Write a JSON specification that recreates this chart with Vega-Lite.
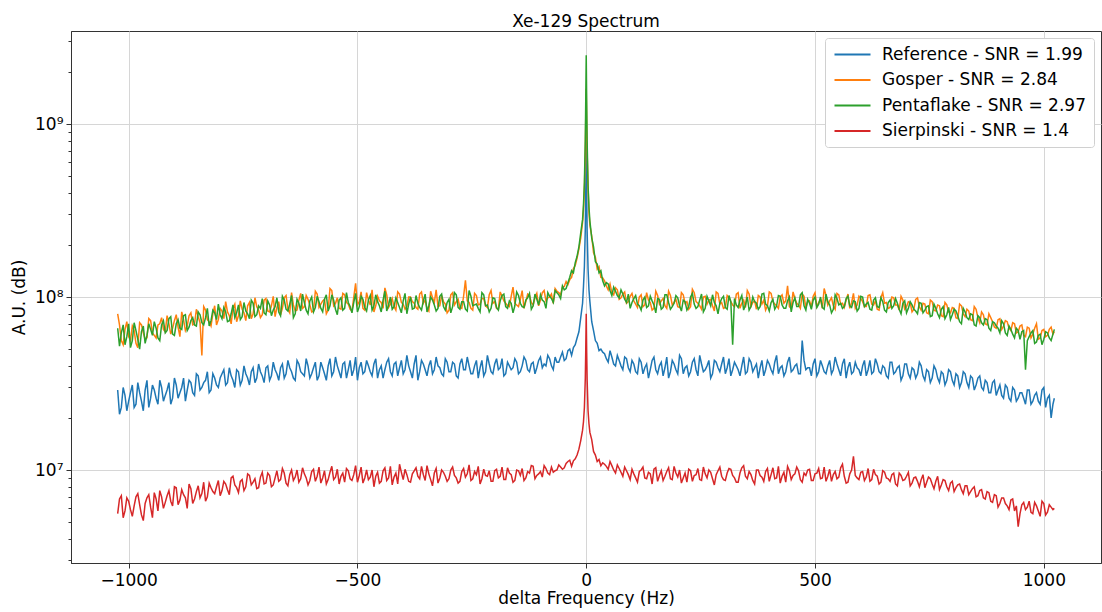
{
"$schema":"https://vega.github.io/schema/vega-lite/v6.json",
"width":1030,"height":532,
"autosize":{"type":"none"},
"padding":{"left":71,"top":31,"right":1,"bottom":49},
"title":{"text":"Xe-129 Spectrum","fontSize":17,"font":"DejaVu Sans","fontWeight":"normal","color":"#000","offset":0},
"data":{"values":[
{"f":-1024,"b":2.9e7,"o":8.0e7,"g":6.6e7,"r":5.6e6},
{"f":-1020,"b":2.1e7,"o":6.9e7,"g":5.2e7,"r":6.8e6},
{"f":-1016,"b":2.3e7,"o":5.6e7,"g":6.2e7,"r":7.1e6},
{"f":-1012,"b":3.0e7,"o":5.3e7,"g":6.9e7,"r":5.3e6},
{"f":-1008,"b":2.7e7,"o":6.5e7,"g":5.3e7,"r":5.8e6},
{"f":-1004,"b":2.2e7,"o":7.2e7,"g":5.9e7,"r":6.9e6},
{"f":-1000,"b":2.5e7,"o":5.9e7,"g":7.0e7,"r":6.6e6},
{"f":-996,"b":2.8e7,"o":5.6e7,"g":5.1e7,"r":5.9e6},
{"f":-992,"b":3.1e7,"o":6.8e7,"g":5.6e7,"r":5.4e6},
{"f":-988,"b":2.3e7,"o":6.4e7,"g":7.1e7,"r":6.2e6},
{"f":-984,"b":2.4e7,"o":5.4e7,"g":6.4e7,"r":7.0e6},
{"f":-980,"b":3.2e7,"o":5.1e7,"g":5.7e7,"r":7.3e6},
{"f":-976,"b":2.8e7,"o":7.1e7,"g":5.0e7,"r":6.3e6},
{"f":-972,"b":2.5e7,"o":6.9e7,"g":6.3e7,"r":5.5e6},
{"f":-968,"b":2.2e7,"o":6.2e7,"g":6.8e7,"r":5.1e6},
{"f":-964,"b":2.9e7,"o":5.7e7,"g":5.4e7,"r":6.4e6},
{"f":-960,"b":3.3e7,"o":5.8e7,"g":6.0e7,"r":6.9e6},
{"f":-956,"b":2.3e7,"o":7.5e7,"g":7.0e7,"r":7.2e6},
{"f":-952,"b":2.6e7,"o":7.3e7,"g":6.5e7,"r":6.1e6},
{"f":-948,"b":3.1e7,"o":6.2e7,"g":6.0e7,"r":5.3e6},
{"f":-944,"b":2.9e7,"o":6.0e7,"g":7.2e7,"r":7.4e6},
{"f":-940,"b":2.6e7,"o":5.8e7,"g":6.6e7,"r":6.8e6},
{"f":-936,"b":2.4e7,"o":6.9e7,"g":5.8e7,"r":5.8e6},
{"f":-932,"b":3.3e7,"o":7.0e7,"g":5.6e7,"r":7.6e6},
{"f":-928,"b":3.0e7,"o":7.6e7,"g":6.9e7,"r":7.0e6},
{"f":-924,"b":2.5e7,"o":6.5e7,"g":7.3e7,"r":6.0e6},
{"f":-920,"b":2.7e7,"o":6.3e7,"g":6.2e7,"r":6.5e6},
{"f":-916,"b":2.9e7,"o":7.8e7,"g":6.4e7,"r":7.1e6},
{"f":-912,"b":3.2e7,"o":7.0e7,"g":7.5e7,"r":7.6e6},
{"f":-908,"b":2.4e7,"o":6.1e7,"g":7.7e7,"r":6.6e6},
{"f":-904,"b":2.6e7,"o":6.6e7,"g":6.1e7,"r":6.2e6},
{"f":-900,"b":3.4e7,"o":7.3e7,"g":6.0e7,"r":8.0e6},
{"f":-896,"b":3.1e7,"o":7.9e7,"g":7.0e7,"r":7.9e6},
{"f":-892,"b":2.6e7,"o":6.7e7,"g":7.4e7,"r":6.3e6},
{"f":-888,"b":2.8e7,"o":5.9e7,"g":6.6e7,"r":6.7e6},
{"f":-884,"b":3.0e7,"o":8.2e7,"g":6.5e7,"r":7.7e6},
{"f":-880,"b":3.4e7,"o":7.4e7,"g":7.8e7,"r":7.2e6},
{"f":-876,"b":2.5e7,"o":6.4e7,"g":7.9e7,"r":6.9e6},
{"f":-872,"b":2.9e7,"o":6.8e7,"g":6.4e7,"r":6.0e6},
{"f":-868,"b":3.3e7,"o":7.8e7,"g":6.7e7,"r":8.3e6},
{"f":-864,"b":3.2e7,"o":8.1e7,"g":7.3e7,"r":7.8e6},
{"f":-860,"b":2.8e7,"o":6.9e7,"g":7.6e7,"r":6.4e6},
{"f":-856,"b":2.7e7,"o":7.0e7,"g":6.9e7,"r":6.8e6},
{"f":-852,"b":3.6e7,"o":8.5e7,"g":6.8e7,"r":7.5e6},
{"f":-848,"b":3.5e7,"o":7.7e7,"g":8.2e7,"r":8.1e6},
{"f":-844,"b":2.9e7,"o":7.1e7,"g":7.9e7,"r":6.9e6},
{"f":-840,"b":3.0e7,"o":4.6e7,"g":7.1e7,"r":7.3e6},
{"f":-836,"b":3.2e7,"o":8.8e7,"g":6.9e7,"r":8.5e6},
{"f":-832,"b":3.3e7,"o":8.4e7,"g":7.6e7,"r":6.6e6},
{"f":-828,"b":3.7e7,"o":7.4e7,"g":8.6e7,"r":7.0e6},
{"f":-824,"b":2.8e7,"o":7.2e7,"g":6.8e7,"r":8.4e6},
{"f":-820,"b":2.9e7,"o":6.8e7,"g":7.3e7,"r":7.9e6},
{"f":-816,"b":3.6e7,"o":8.0e7,"g":8.4e7,"r":7.5e6},
{"f":-812,"b":3.4e7,"o":8.9e7,"g":8.1e7,"r":7.3e6},
{"f":-808,"b":3.1e7,"o":6.9e7,"g":7.4e7,"r":8.0e6},
{"f":-804,"b":3.0e7,"o":7.4e7,"g":9.1e7,"r":8.7e6},
{"f":-800,"b":3.4e7,"o":8.6e7,"g":7.9e7,"r":7.1e6},
{"f":-796,"b":3.6e7,"o":8.3e7,"g":7.5e7,"r":7.6e6},
{"f":-792,"b":3.8e7,"o":7.5e7,"g":8.7e7,"r":8.6e6},
{"f":-788,"b":3.1e7,"o":9.4e7,"g":8.2e7,"r":8.3e6},
{"f":-784,"b":3.2e7,"o":8.2e7,"g":7.2e7,"r":7.7e6},
{"f":-780,"b":3.9e7,"o":7.8e7,"g":7.3e7,"r":7.2e6},
{"f":-776,"b":3.5e7,"o":7.0e7,"g":8.0e7,"r":9.0e6},
{"f":-772,"b":3.3e7,"o":8.6e7,"g":9.0e7,"r":9.2e6},
{"f":-768,"b":3.0e7,"o":9.1e7,"g":7.6e7,"r":8.2e6},
{"f":-764,"b":3.8e7,"o":7.2e7,"g":8.1e7,"r":7.9e6},
{"f":-760,"b":3.7e7,"o":7.8e7,"g":9.0e7,"r":7.4e6},
{"f":-756,"b":3.1e7,"o":9.5e7,"g":7.4e7,"r":8.6e6},
{"f":-752,"b":3.3e7,"o":8.5e7,"g":7.7e7,"r":8.8e6},
{"f":-748,"b":4.0e7,"o":8.1e7,"g":9.3e7,"r":7.6e6},
{"f":-744,"b":3.6e7,"o":7.3e7,"g":8.3e7,"r":8.0e6},
{"f":-740,"b":3.4e7,"o":8.9e7,"g":8.0e7,"r":9.5e6},
{"f":-736,"b":3.1e7,"o":9.3e7,"g":7.5e7,"r":9.3e6},
{"f":-732,"b":3.7e7,"o":7.5e7,"g":9.6e7,"r":8.2e6},
{"f":-728,"b":3.9e7,"o":8.0e7,"g":9.2e7,"r":8.5e6},
{"f":-724,"b":3.2e7,"o":9.9e7,"g":7.7e7,"r":8.9e6},
{"f":-720,"b":3.4e7,"o":8.8e7,"g":7.9e7,"r":7.8e6},
{"f":-716,"b":4.1e7,"o":8.4e7,"g":8.9e7,"r":7.9e6},
{"f":-712,"b":3.7e7,"o":7.6e7,"g":8.6e7,"r":9.1e6},
{"f":-708,"b":3.5e7,"o":7.9e7,"g":9.8e7,"r":9.7e6},
{"f":-704,"b":3.2e7,"o":9.6e7,"g":8.1e7,"r":8.3e6},
{"f":-700,"b":3.9e7,"o":9.8e7,"g":7.9e7,"r":8.4e6},
{"f":-696,"b":4.0e7,"o":8.3e7,"g":9.5e7,"r":9.6e6},
{"f":-692,"b":3.3e7,"o":8.2e7,"g":9.0e7,"r":9.3e6},
{"f":-688,"b":3.5e7,"o":8.9e7,"g":7.8e7,"r":8.0e6},
{"f":-684,"b":4.2e7,"o":1.01e8,"g":8.4e7,"r":8.2e6},
{"f":-680,"b":3.8e7,"o":7.7e7,"g":8.8e7,"r":9.0e6},
{"f":-676,"b":3.6e7,"o":8.7e7,"g":9.9e7,"r":9.9e6},
{"f":-672,"b":3.3e7,"o":9.4e7,"g":8.2e7,"r":8.6e6},
{"f":-668,"b":3.9e7,"o":7.9e7,"g":7.8e7,"r":8.8e6},
{"f":-664,"b":4.1e7,"o":8.6e7,"g":1.01e8,"r":1.02e7},
{"f":-660,"b":3.4e7,"o":9.9e7,"g":9.6e7,"r":9.6e6},
{"f":-656,"b":3.6e7,"o":1.02e8,"g":8.5e7,"r":8.4e6},
{"f":-652,"b":4.3e7,"o":8.5e7,"g":8.3e7,"r":8.1e6},
{"f":-648,"b":3.9e7,"o":8.1e7,"g":9.1e7,"r":9.4e6},
{"f":-644,"b":3.7e7,"o":1.06e8,"g":1.02e8,"r":1.0e7},
{"f":-640,"b":3.4e7,"o":9.0e7,"g":7.6e7,"r":8.7e6},
{"f":-636,"b":3.3e7,"o":8.3e7,"g":8.0e7,"r":9.1e6},
{"f":-632,"b":4.3e7,"o":8.4e7,"g":9.7e7,"r":1.0e7},
{"f":-628,"b":4.1e7,"o":9.6e7,"g":9.2e7,"r":8.5e6},
{"f":-624,"b":3.7e7,"o":1.05e8,"g":8.3e7,"r":8.9e6},
{"f":-620,"b":3.6e7,"o":8.6e7,"g":1.04e8,"r":1.03e7},
{"f":-616,"b":3.5e7,"o":8.8e7,"g":9.3e7,"r":9.5e6},
{"f":-612,"b":4.4e7,"o":1.02e8,"g":8.4e7,"r":9.0e6},
{"f":-608,"b":4.0e7,"o":9.7e7,"g":8.0e7,"r":8.2e6},
{"f":-604,"b":3.4e7,"o":9.0e7,"g":9.5e7,"r":8.7e6},
{"f":-600,"b":3.6e7,"o":8.2e7,"g":1.0e8,"r":9.8e6},
{"f":-596,"b":3.9e7,"o":8.3e7,"g":8.2e7,"r":1.01e7},
{"f":-592,"b":4.2e7,"o":1.08e8,"g":8.7e7,"r":8.6e6},
{"f":-588,"b":3.3e7,"o":1.04e8,"g":1.01e8,"r":9.2e6},
{"f":-584,"b":3.5e7,"o":8.7e7,"g":9.4e7,"r":1.04e7},
{"f":-580,"b":4.2e7,"o":9.1e7,"g":8.6e7,"r":8.4e6},
{"f":-576,"b":3.9e7,"o":9.5e7,"g":8.2e7,"r":9.0e6},
{"f":-572,"b":3.6e7,"o":9.7e7,"g":9.7e7,"r":9.9e6},
{"f":-568,"b":3.3e7,"o":8.0e7,"g":1.03e8,"r":8.3e6},
{"f":-564,"b":4.0e7,"o":8.4e7,"g":8.3e7,"r":8.8e6},
{"f":-560,"b":4.4e7,"o":1.12e8,"g":8.9e7,"r":9.7e6},
{"f":-556,"b":3.5e7,"o":1.09e8,"g":1.03e8,"r":1.05e7},
{"f":-552,"b":3.7e7,"o":8.9e7,"g":9.6e7,"r":8.8e6},
{"f":-548,"b":4.5e7,"o":9.2e7,"g":8.5e7,"r":9.1e6},
{"f":-544,"b":4.0e7,"o":9.9e7,"g":7.9e7,"r":1.01e7},
{"f":-540,"b":3.7e7,"o":8.6e7,"g":9.6e7,"r":8.3e6},
{"f":-536,"b":3.4e7,"o":8.5e7,"g":9.9e7,"r":9.2e6},
{"f":-532,"b":4.1e7,"o":1.05e8,"g":8.4e7,"r":9.6e6},
{"f":-528,"b":4.2e7,"o":1.03e8,"g":8.6e7,"r":8.5e6},
{"f":-524,"b":3.4e7,"o":9.3e7,"g":1.06e8,"r":1.02e7},
{"f":-520,"b":3.8e7,"o":9.1e7,"g":9.3e7,"r":9.9e6},
{"f":-516,"b":4.3e7,"o":8.5e7,"g":8.8e7,"r":8.9e6},
{"f":-512,"b":3.5e7,"o":8.3e7,"g":8.1e7,"r":8.7e6},
{"f":-508,"b":3.8e7,"o":1.0e8,"g":9.3e7,"r":9.4e6},
{"f":-504,"b":4.5e7,"o":1.2e8,"g":1.05e8,"r":1.06e7},
{"f":-500,"b":3.3e7,"o":9.0e7,"g":8.2e7,"r":8.5e6},
{"f":-496,"b":3.9e7,"o":9.4e7,"g":8.8e7,"r":9.3e6},
{"f":-492,"b":4.2e7,"o":1.07e8,"g":1.01e8,"r":1.04e7},
{"f":-488,"b":3.6e7,"o":8.6e7,"g":9.7e7,"r":8.4e6},
{"f":-484,"b":3.7e7,"o":8.4e7,"g":8.7e7,"r":9.0e6},
{"f":-480,"b":4.3e7,"o":1.06e8,"g":8.3e7,"r":1.0e7},
{"f":-476,"b":4.0e7,"o":9.6e7,"g":9.6e7,"r":8.8e6},
{"f":-472,"b":3.7e7,"o":9.0e7,"g":1.02e8,"r":9.1e6},
{"f":-468,"b":3.5e7,"o":1.1e8,"g":8.4e7,"r":1.0e7},
{"f":-464,"b":4.1e7,"o":8.2e7,"g":8.9e7,"r":8.0e6},
{"f":-460,"b":4.4e7,"o":8.9e7,"g":1.03e8,"r":9.2e6},
{"f":-456,"b":3.4e7,"o":1.01e8,"g":9.4e7,"r":9.7e6},
{"f":-452,"b":3.8e7,"o":9.5e7,"g":8.9e7,"r":8.4e6},
{"f":-448,"b":4.0e7,"o":9.3e7,"g":8.2e7,"r":8.6e6},
{"f":-444,"b":3.4e7,"o":8.6e7,"g":9.6e7,"r":9.9e6},
{"f":-440,"b":3.8e7,"o":1.13e8,"g":1.08e8,"r":1.03e7},
{"f":-436,"b":4.2e7,"o":1.03e8,"g":8.3e7,"r":8.7e6},
{"f":-432,"b":4.4e7,"o":8.7e7,"g":9.0e7,"r":9.0e6},
{"f":-428,"b":3.7e7,"o":9.1e7,"g":1.0e8,"r":1.05e7},
{"f":-424,"b":3.5e7,"o":9.8e7,"g":8.5e7,"r":8.2e6},
{"f":-420,"b":4.1e7,"o":8.8e7,"g":8.8e7,"r":9.1e6},
{"f":-416,"b":4.2e7,"o":8.4e7,"g":9.9e7,"r":9.6e6},
{"f":-412,"b":3.5e7,"o":1.07e8,"g":9.3e7,"r":8.3e6},
{"f":-408,"b":3.9e7,"o":1.04e8,"g":8.7e7,"r":1.08e7},
{"f":-404,"b":4.3e7,"o":9.3e7,"g":8.1e7,"r":9.7e6},
{"f":-400,"b":3.6e7,"o":9.1e7,"g":9.5e7,"r":8.8e6},
{"f":-396,"b":3.8e7,"o":8.5e7,"g":1.05e8,"r":1.01e7},
{"f":-392,"b":4.6e7,"o":8.8e7,"g":8.0e7,"r":9.4e6},
{"f":-388,"b":4.0e7,"o":1.0e8,"g":9.1e7,"r":8.6e6},
{"f":-384,"b":3.7e7,"o":1.0e8,"g":1.0e8,"r":8.5e6},
{"f":-380,"b":3.4e7,"o":9.4e7,"g":8.5e7,"r":9.5e6},
{"f":-376,"b":4.1e7,"o":9.2e7,"g":8.6e7,"r":9.9e6},
{"f":-372,"b":4.6e7,"o":8.7e7,"g":1.02e8,"r":1.03e7},
{"f":-368,"b":3.3e7,"o":8.5e7,"g":9.2e7,"r":9.2e6},
{"f":-364,"b":3.7e7,"o":1.04e8,"g":8.7e7,"r":8.9e6},
{"f":-360,"b":4.3e7,"o":1.07e8,"g":8.4e7,"r":1.05e7},
{"f":-356,"b":4.1e7,"o":9.2e7,"g":9.5e7,"r":9.4e6},
{"f":-352,"b":3.8e7,"o":9.6e7,"g":1.04e8,"r":8.7e6},
{"f":-348,"b":3.5e7,"o":8.6e7,"g":8.2e7,"r":1.06e7},
{"f":-344,"b":4.0e7,"o":8.3e7,"g":8.9e7,"r":9.5e6},
{"f":-340,"b":4.3e7,"o":1.08e8,"g":1.0e8,"r":8.8e6},
{"f":-336,"b":3.6e7,"o":9.9e7,"g":9.6e7,"r":8.1e6},
{"f":-332,"b":3.8e7,"o":9.3e7,"g":9.0e7,"r":9.6e6},
{"f":-328,"b":4.5e7,"o":1.1e8,"g":8.3e7,"r":1.02e7},
{"f":-324,"b":4.0e7,"o":8.8e7,"g":8.6e7,"r":8.4e6},
{"f":-320,"b":3.9e7,"o":8.9e7,"g":1.01e8,"r":9.0e6},
{"f":-316,"b":3.6e7,"o":1.02e8,"g":1.04e8,"r":1.0e7},
{"f":-312,"b":3.5e7,"o":9.4e7,"g":8.8e7,"r":9.7e6},
{"f":-308,"b":4.4e7,"o":9.1e7,"g":8.4e7,"r":9.2e6},
{"f":-304,"b":4.2e7,"o":8.1e7,"g":9.3e7,"r":8.6e6},
{"f":-300,"b":3.7e7,"o":8.4e7,"g":9.7e7,"r":8.9e6},
{"f":-296,"b":3.7e7,"o":1.03e8,"g":8.1e7,"r":1.0e7},
{"f":-292,"b":4.2e7,"o":1.06e8,"g":8.8e7,"r":1.04e7},
{"f":-288,"b":4.1e7,"o":9.0e7,"g":1.06e8,"r":9.3e6},
{"f":-284,"b":3.5e7,"o":9.4e7,"g":1.03e8,"r":9.0e6},
{"f":-280,"b":3.4e7,"o":9.7e7,"g":8.7e7,"r":8.4e6},
{"f":-276,"b":4.1e7,"o":8.7e7,"g":8.5e7,"r":8.6e6},
{"f":-272,"b":4.4e7,"o":8.6e7,"g":9.4e7,"r":9.8e6},
{"f":-268,"b":3.8e7,"o":1.01e8,"g":9.4e7,"r":1.02e7},
{"f":-264,"b":3.8e7,"o":1.25e8,"g":8.5e7,"r":9.1e6},
{"f":-260,"b":4.5e7,"o":9.5e7,"g":8.3e7,"r":9.5e6},
{"f":-256,"b":4.0e7,"o":9.3e7,"g":1.09e8,"r":1.07e7},
{"f":-252,"b":3.6e7,"o":8.6e7,"g":1.01e8,"r":8.7e6},
{"f":-248,"b":3.6e7,"o":8.4e7,"g":8.9e7,"r":8.9e6},
{"f":-244,"b":4.0e7,"o":1.05e8,"g":9.0e7,"r":9.8e6},
{"f":-240,"b":4.3e7,"o":1.02e8,"g":9.1e7,"r":9.4e6},
{"f":-236,"b":3.4e7,"o":9.0e7,"g":8.6e7,"r":1.05e7},
{"f":-232,"b":3.9e7,"o":9.1e7,"g":8.2e7,"r":8.3e6},
{"f":-228,"b":4.3e7,"o":9.8e7,"g":1.06e8,"r":8.9e6},
{"f":-224,"b":3.5e7,"o":9.8e7,"g":1.03e8,"r":1.01e7},
{"f":-220,"b":3.7e7,"o":8.9e7,"g":8.9e7,"r":9.3e6},
{"f":-216,"b":4.6e7,"o":8.7e7,"g":9.0e7,"r":9.2e6},
{"f":-212,"b":4.1e7,"o":1.03e8,"g":8.2e7,"r":9.9e6},
{"f":-208,"b":3.7e7,"o":1.09e8,"g":8.6e7,"r":8.6e6},
{"f":-204,"b":3.6e7,"o":9.2e7,"g":9.9e7,"r":8.6e6},
{"f":-200,"b":4.1e7,"o":9.4e7,"g":9.8e7,"r":9.9e6},
{"f":-196,"b":4.4e7,"o":8.6e7,"g":8.7e7,"r":1.01e7},
{"f":-192,"b":3.8e7,"o":8.5e7,"g":8.4e7,"r":9.0e6},
{"f":-188,"b":3.9e7,"o":1.07e8,"g":9.5e7,"r":9.2e6},
{"f":-184,"b":4.4e7,"o":1.01e8,"g":1.02e8,"r":1.04e7},
{"f":-180,"b":3.5e7,"o":9.5e7,"g":1.04e8,"r":8.8e6},
{"f":-176,"b":3.6e7,"o":9.2e7,"g":8.8e7,"r":8.8e6},
{"f":-172,"b":4.2e7,"o":8.9e7,"g":8.6e7,"r":1.03e7},
{"f":-168,"b":4.0e7,"o":8.8e7,"g":9.5e7,"r":9.6e6},
{"f":-164,"b":3.8e7,"o":1.01e8,"g":9.2e7,"r":9.4e6},
{"f":-160,"b":3.9e7,"o":1.14e8,"g":8.1e7,"r":8.5e6},
{"f":-156,"b":4.4e7,"o":9.2e7,"g":8.9e7,"r":8.7e6},
{"f":-152,"b":4.2e7,"o":9.0e7,"g":1.07e8,"r":1.0e7},
{"f":-148,"b":3.6e7,"o":8.8e7,"g":1.02e8,"r":9.9e6},
{"f":-144,"b":3.7e7,"o":9.7e7,"g":9.2e7,"r":9.3e6},
{"f":-140,"b":4.0e7,"o":1.09e8,"g":8.8e7,"r":1.02e7},
{"f":-136,"b":4.5e7,"o":8.6e7,"g":8.7e7,"r":8.7e6},
{"f":-132,"b":4.3e7,"o":9.4e7,"g":9.6e7,"r":9.0e6},
{"f":-128,"b":3.8e7,"o":1.04e8,"g":9.9e7,"r":9.8e6},
{"f":-124,"b":3.7e7,"o":1.02e8,"g":1.05e8,"r":9.6e6},
{"f":-120,"b":4.1e7,"o":9.3e7,"g":8.5e7,"r":1.06e7},
{"f":-116,"b":4.2e7,"o":9.0e7,"g":8.9e7,"r":1.05e7},
{"f":-112,"b":3.6e7,"o":9.9e7,"g":1.04e8,"r":8.9e6},
{"f":-108,"b":3.9e7,"o":1.05e8,"g":9.7e7,"r":9.3e6},
{"f":-104,"b":4.3e7,"o":8.9e7,"g":9.0e7,"r":9.5e6},
{"f":-100,"b":4.5e7,"o":9.6e7,"g":1.03e8,"r":9.8e6},
{"f":-96,"b":3.9e7,"o":1.06e8,"g":9.6e7,"r":9.1e6},
{"f":-92,"b":4.1e7,"o":1.09e8,"g":9.4e7,"r":1.06e7},
{"f":-88,"b":4.0e7,"o":9.5e7,"g":8.6e7,"r":1.02e7},
{"f":-84,"b":4.6e7,"o":9.9e7,"g":1.06e8,"r":9.6e6},
{"f":-80,"b":4.4e7,"o":1.0e8,"g":1.01e8,"r":9.4e6},
{"f":-76,"b":4.0e7,"o":1.04e8,"g":9.8e7,"r":1.04e7},
{"f":-72,"b":3.8e7,"o":9.2e7,"g":9.3e7,"r":9.7e6},
{"f":-68,"b":4.5e7,"o":1.12e8,"g":1.09e8,"r":9.9e6},
{"f":-64,"b":4.2e7,"o":1.08e8,"g":1.06e8,"r":1.0e7},
{"f":-60,"b":4.2e7,"o":1.06e8,"g":1.03e8,"r":1.07e7},
{"f":-56,"b":4.5e7,"o":1.03e8,"g":9.8e7,"r":1.04e7},
{"f":-52,"b":4.8e7,"o":1.14e8,"g":1.16e8,"r":1.01e7},
{"f":-48,"b":4.3e7,"o":1.15e8,"g":1.1e8,"r":1.03e7},
{"f":-44,"b":4.4e7,"o":1.23e8,"g":1.12e8,"r":1.09e7},
{"f":-40,"b":4.9e7,"o":1.18e8,"g":1.21e8,"r":1.12e7},
{"f":-36,"b":5.0e7,"o":1.26e8,"g":1.3e8,"r":1.14e7},
{"f":-32,"b":4.6e7,"o":1.3e8,"g":1.42e8,"r":1.05e7},
{"f":-28,"b":5.1e7,"o":1.46e8,"g":1.38e8,"r":1.13e7},
{"f":-24,"b":5.3e7,"o":1.52e8,"g":1.58e8,"r":1.16e7},
{"f":-20,"b":5.8e7,"o":1.68e8,"g":1.72e8,"r":1.22e7},
{"f":-16,"b":6.3e7,"o":1.9e8,"g":1.95e8,"r":1.32e7},
{"f":-12,"b":7.6e7,"o":2.2e8,"g":2.35e8,"r":1.48e7},
{"f":-8,"b":9.2e7,"o":2.7e8,"g":2.8e8,"r":1.7e7},
{"f":-6,"b":1.15e8,"o":3.2e8,"g":3.4e8,"r":1.9e7},
{"f":-4,"b":1.5e8,"o":4.2e8,"g":4.6e8,"r":2.3e7},
{"f":-2,"b":2.5e8,"o":7.0e8,"g":8.2e8,"r":3.4e7},
{"f":-1,"b":4.2e8,"o":1.1e9,"g":1.4e9,"r":5.0e7},
{"f":0,"b":8.0e8,"o":1.6e9,"g":2.5e9,"r":8.0e7},
{"f":1,"b":4.0e8,"o":1.0e9,"g":1.35e9,"r":4.8e7},
{"f":2,"b":2.4e8,"o":6.8e8,"g":7.9e8,"r":3.3e7},
{"f":4,"b":1.45e8,"o":4.3e8,"g":4.4e8,"r":2.2e7},
{"f":6,"b":1.1e8,"o":3.1e8,"g":3.3e8,"r":1.85e7},
{"f":8,"b":9.4e7,"o":2.6e8,"g":2.75e8,"r":1.65e7},
{"f":12,"b":7.2e7,"o":2.25e8,"g":2.2e8,"r":1.5e7},
{"f":16,"b":6.4e7,"o":1.8e8,"g":1.95e8,"r":1.28e7},
{"f":20,"b":5.6e7,"o":1.7e8,"g":1.6e8,"r":1.22e7},
{"f":24,"b":5.4e7,"o":1.45e8,"g":1.55e8,"r":1.12e7},
{"f":28,"b":4.9e7,"o":1.5e8,"g":1.38e8,"r":1.15e7},
{"f":32,"b":5.0e7,"o":1.3e8,"g":1.42e8,"r":1.06e7},
{"f":36,"b":4.8e7,"o":1.29e8,"g":1.24e8,"r":1.1e7},
{"f":40,"b":4.7e7,"o":1.24e8,"g":1.16e8,"r":1.08e7},
{"f":44,"b":4.4e7,"o":1.16e8,"g":1.21e8,"r":1.05e7},
{"f":48,"b":4.2e7,"o":1.1e8,"g":1.19e8,"r":1.01e7},
{"f":52,"b":4.9e7,"o":1.19e8,"g":1.09e8,"r":1.12e7},
{"f":56,"b":4.5e7,"o":1.06e8,"g":1.02e8,"r":1.06e7},
{"f":60,"b":4.1e7,"o":1.03e8,"g":1.14e8,"r":1.0e7},
{"f":64,"b":4.0e7,"o":1.13e8,"g":1.08e8,"r":9.6e6},
{"f":68,"b":4.6e7,"o":1.1e8,"g":1.02e8,"r":1.07e7},
{"f":72,"b":4.3e7,"o":9.7e7,"g":9.9e7,"r":1.02e7},
{"f":76,"b":4.0e7,"o":9.9e7,"g":1.1e8,"r":9.7e6},
{"f":80,"b":3.8e7,"o":1.04e8,"g":1.04e8,"r":9.2e6},
{"f":84,"b":4.5e7,"o":1.07e8,"g":9.7e7,"r":1.04e7},
{"f":88,"b":4.4e7,"o":9.2e7,"g":9.3e7,"r":9.9e6},
{"f":92,"b":3.9e7,"o":9.4e7,"g":1.04e8,"r":9.4e6},
{"f":96,"b":3.7e7,"o":1.01e8,"g":8.6e7,"r":8.8e6},
{"f":100,"b":4.3e7,"o":1.05e8,"g":9.3e7,"r":1.01e7},
{"f":104,"b":4.1e7,"o":9.5e7,"g":9.8e7,"r":9.5e6},
{"f":108,"b":3.7e7,"o":9.1e7,"g":1.02e8,"r":9.0e6},
{"f":112,"b":3.6e7,"o":8.7e7,"g":9.1e7,"r":8.5e6},
{"f":116,"b":4.4e7,"o":1.0e8,"g":8.9e7,"r":9.8e6},
{"f":120,"b":4.2e7,"o":1.03e8,"g":8.4e7,"r":1.0e7},
{"f":124,"b":3.6e7,"o":8.8e7,"g":9.6e7,"r":1.04e7},
{"f":128,"b":3.9e7,"o":9.0e7,"g":1.0e8,"r":9.0e6},
{"f":132,"b":4.1e7,"o":1.06e8,"g":8.7e7,"r":8.9e6},
{"f":136,"b":3.4e7,"o":9.6e7,"g":8.9e7,"r":9.7e6},
{"f":140,"b":3.8e7,"o":9.3e7,"g":1.01e8,"r":9.5e6},
{"f":144,"b":4.3e7,"o":8.4e7,"g":9.5e7,"r":8.3e6},
{"f":148,"b":4.5e7,"o":8.6e7,"g":9.0e7,"r":1.01e7},
{"f":152,"b":3.8e7,"o":1.08e8,"g":8.1e7,"r":1.03e7},
{"f":156,"b":3.6e7,"o":1.02e8,"g":9.8e7,"r":8.6e6},
{"f":160,"b":4.0e7,"o":9.1e7,"g":9.7e7,"r":9.3e6},
{"f":164,"b":4.2e7,"o":9.5e7,"g":8.5e7,"r":9.9e6},
{"f":168,"b":3.5e7,"o":9.8e7,"g":8.7e7,"r":8.7e6},
{"f":172,"b":3.9e7,"o":8.9e7,"g":1.03e8,"r":9.2e6},
{"f":176,"b":4.5e7,"o":8.6e7,"g":1.03e8,"r":9.8e6},
{"f":180,"b":3.4e7,"o":1.08e8,"g":9.3e7,"r":1.03e7},
{"f":184,"b":3.7e7,"o":1.02e8,"g":8.5e7,"r":8.9e6},
{"f":188,"b":4.3e7,"o":9.0e7,"g":8.8e7,"r":8.8e6},
{"f":192,"b":4.1e7,"o":9.3e7,"g":9.2e7,"r":1.05e7},
{"f":196,"b":3.8e7,"o":9.7e7,"g":1.02e8,"r":9.6e6},
{"f":200,"b":3.6e7,"o":8.8e7,"g":9.9e7,"r":9.1e6},
{"f":204,"b":4.6e7,"o":8.7e7,"g":8.9e7,"r":1.0e7},
{"f":208,"b":4.4e7,"o":1.06e8,"g":8.3e7,"r":8.4e6},
{"f":212,"b":3.6e7,"o":1.03e8,"g":9.6e7,"r":9.0e6},
{"f":216,"b":3.9e7,"o":9.2e7,"g":9.4e7,"r":9.6e6},
{"f":220,"b":4.0e7,"o":9.4e7,"g":8.4e7,"r":8.5e6},
{"f":224,"b":3.5e7,"o":8.5e7,"g":8.8e7,"r":1.01e7},
{"f":228,"b":3.7e7,"o":8.8e7,"g":1.0e8,"r":9.9e6},
{"f":232,"b":4.2e7,"o":1.11e8,"g":1.05e8,"r":8.6e6},
{"f":236,"b":4.4e7,"o":1.06e8,"g":9.1e7,"r":9.3e6},
{"f":240,"b":3.8e7,"o":9.4e7,"g":8.6e7,"r":9.4e6},
{"f":244,"b":3.5e7,"o":9.2e7,"g":8.8e7,"r":1.02e7},
{"f":248,"b":4.6e7,"o":8.9e7,"g":9.6e7,"r":8.8e6},
{"f":252,"b":4.1e7,"o":8.5e7,"g":1.04e8,"r":8.7e6},
{"f":256,"b":3.7e7,"o":1.0e8,"g":8.2e7,"r":1.04e7},
{"f":260,"b":3.8e7,"o":1.01e8,"g":8.6e7,"r":9.5e6},
{"f":264,"b":4.0e7,"o":9.1e7,"g":1.01e8,"r":9.0e6},
{"f":268,"b":4.3e7,"o":9.6e7,"g":9.5e7,"r":1.0e7},
{"f":272,"b":3.4e7,"o":9.7e7,"g":8.9e7,"r":9.7e6},
{"f":276,"b":3.6e7,"o":8.9e7,"g":1.03e8,"r":8.9e6},
{"f":280,"b":4.3e7,"o":8.3e7,"g":9.3e7,"r":8.2e6},
{"f":284,"b":4.2e7,"o":1.07e8,"g":8.9e7,"r":9.4e6},
{"f":288,"b":3.9e7,"o":1.05e8,"g":8.0e7,"r":9.9e6},
{"f":292,"b":3.7e7,"o":9.1e7,"g":9.2e7,"r":1.04e7},
{"f":296,"b":4.1e7,"o":9.3e7,"g":9.8e7,"r":9.2e6},
{"f":300,"b":4.5e7,"o":8.6e7,"g":1.01e8,"r":8.8e6},
{"f":304,"b":3.6e7,"o":8.7e7,"g":8.7e7,"r":8.7e6},
{"f":308,"b":3.9e7,"o":1.02e8,"g":8.5e7,"r":9.6e6},
{"f":312,"b":4.4e7,"o":9.9e7,"g":1.02e8,"r":1.02e7},
{"f":316,"b":3.5e7,"o":9.4e7,"g":9.4e7,"r":1.01e7},
{"f":320,"b":3.8e7,"o":9.0e7,"g":5.3e7,"r":9.3e6},
{"f":324,"b":4.2e7,"o":8.8e7,"g":9.8e7,"r":9.0e6},
{"f":328,"b":4.0e7,"o":1.04e8,"g":9.0e7,"r":8.5e6},
{"f":332,"b":3.8e7,"o":1.06e8,"g":8.7e7,"r":8.5e6},
{"f":336,"b":3.5e7,"o":8.6e7,"g":9.6e7,"r":9.6e6},
{"f":340,"b":4.0e7,"o":9.2e7,"g":1.02e8,"r":1.03e7},
{"f":344,"b":4.5e7,"o":9.6e7,"g":8.4e7,"r":1.06e7},
{"f":348,"b":3.6e7,"o":8.7e7,"g":9.0e7,"r":9.2e6},
{"f":352,"b":3.7e7,"o":1.09e8,"g":1.0e8,"r":8.9e6},
{"f":356,"b":4.4e7,"o":1.04e8,"g":8.4e7,"r":9.8e6},
{"f":360,"b":4.2e7,"o":8.8e7,"g":8.8e7,"r":9.4e6},
{"f":364,"b":3.7e7,"o":9.3e7,"g":1.0e8,"r":8.7e6},
{"f":368,"b":3.9e7,"o":9.5e7,"g":9.4e7,"r":8.3e6},
{"f":372,"b":4.1e7,"o":8.5e7,"g":9.2e7,"r":1.0e7},
{"f":376,"b":3.4e7,"o":1.02e8,"g":8.5e7,"r":1.0e7},
{"f":380,"b":3.9e7,"o":1.0e8,"g":8.8e7,"r":9.3e6},
{"f":384,"b":4.3e7,"o":9.1e7,"g":1.04e8,"r":9.1e6},
{"f":388,"b":3.5e7,"o":9.6e7,"g":1.05e8,"r":8.6e6},
{"f":392,"b":3.8e7,"o":8.4e7,"g":9.1e7,"r":9.8e6},
{"f":396,"b":4.3e7,"o":8.9e7,"g":8.9e7,"r":1.02e7},
{"f":400,"b":4.1e7,"o":1.07e8,"g":8.3e7,"r":8.6e6},
{"f":404,"b":3.8e7,"o":1.05e8,"g":9.3e7,"r":9.4e6},
{"f":408,"b":3.6e7,"o":9.4e7,"g":9.7e7,"r":1.03e7},
{"f":412,"b":4.2e7,"o":9.1e7,"g":8.5e7,"r":8.9e6},
{"f":416,"b":4.6e7,"o":8.9e7,"g":8.9e7,"r":9.0e6},
{"f":420,"b":3.6e7,"o":8.6e7,"g":1.02e8,"r":1.05e7},
{"f":424,"b":3.9e7,"o":1.0e8,"g":1.01e8,"r":8.4e6},
{"f":428,"b":4.0e7,"o":1.03e8,"g":9.0e7,"r":9.2e6},
{"f":432,"b":3.5e7,"o":9.2e7,"g":8.6e7,"r":9.7e6},
{"f":436,"b":3.7e7,"o":9.5e7,"g":8.6e7,"r":8.5e6},
{"f":440,"b":4.2e7,"o":1.16e8,"g":9.5e7,"r":1.05e7},
{"f":444,"b":4.5e7,"o":8.8e7,"g":1.0e8,"r":9.9e6},
{"f":448,"b":3.7e7,"o":8.6e7,"g":8.2e7,"r":8.8e6},
{"f":452,"b":3.8e7,"o":1.07e8,"g":9.3e7,"r":9.3e6},
{"f":456,"b":4.0e7,"o":9.8e7,"g":9.9e7,"r":9.5e6},
{"f":460,"b":4.1e7,"o":9.2e7,"g":8.8e7,"r":1.04e7},
{"f":464,"b":3.6e7,"o":9.0e7,"g":8.8e7,"r":9.9e6},
{"f":468,"b":3.6e7,"o":8.6e7,"g":1.03e8,"r":8.8e6},
{"f":472,"b":5.6e7,"o":1.04e8,"g":1.06e8,"r":8.5e6},
{"f":476,"b":4.3e7,"o":1.01e8,"g":8.9e7,"r":9.6e6},
{"f":480,"b":3.8e7,"o":8.7e7,"g":8.4e7,"r":9.3e6},
{"f":484,"b":3.9e7,"o":9.4e7,"g":9.7e7,"r":1.0e7},
{"f":488,"b":3.9e7,"o":9.5e7,"g":9.2e7,"r":1.01e7},
{"f":492,"b":3.5e7,"o":8.8e7,"g":8.5e7,"r":8.7e6},
{"f":496,"b":4.1e7,"o":1.01e8,"g":9.6e7,"r":8.7e6},
{"f":500,"b":4.4e7,"o":1.06e8,"g":1.0e8,"r":9.5e6},
{"f":504,"b":3.5e7,"o":8.8e7,"g":8.7e7,"r":9.6e6},
{"f":508,"b":3.7e7,"o":9.3e7,"g":9.1e7,"r":1.02e7},
{"f":512,"b":4.3e7,"o":9.7e7,"g":1.0e8,"r":8.9e6},
{"f":516,"b":4.0e7,"o":8.6e7,"g":8.7e7,"r":9.0e6},
{"f":520,"b":3.7e7,"o":1.12e8,"g":8.5e7,"r":1.04e7},
{"f":524,"b":3.6e7,"o":1.02e8,"g":1.04e8,"r":8.6e6},
{"f":528,"b":4.0e7,"o":9.0e7,"g":9.4e7,"r":9.2e6},
{"f":532,"b":4.3e7,"o":9.5e7,"g":9.0e7,"r":1.01e7},
{"f":536,"b":3.6e7,"o":9.9e7,"g":8.1e7,"r":8.6e6},
{"f":540,"b":3.8e7,"o":8.9e7,"g":8.5e7,"r":9.4e6},
{"f":544,"b":4.5e7,"o":8.5e7,"g":1.03e8,"r":9.8e6},
{"f":548,"b":4.1e7,"o":1.05e8,"g":9.8e7,"r":8.9e6},
{"f":552,"b":3.8e7,"o":1.03e8,"g":9.0e7,"r":9.1e6},
{"f":556,"b":3.5e7,"o":9.1e7,"g":9.2e7,"r":1.03e7},
{"f":560,"b":4.1e7,"o":9.2e7,"g":8.6e7,"r":1.08e7},
{"f":564,"b":4.4e7,"o":8.7e7,"g":8.8e7,"r":9.2e6},
{"f":568,"b":3.4e7,"o":9.6e7,"g":9.8e7,"r":8.4e6},
{"f":572,"b":3.9e7,"o":1.04e8,"g":1.01e8,"r":8.5e6},
{"f":576,"b":4.2e7,"o":8.6e7,"g":8.9e7,"r":9.5e6},
{"f":580,"b":3.6e7,"o":9.3e7,"g":8.7e7,"r":1.0e7},
{"f":584,"b":3.7e7,"o":1.05e8,"g":9.5e7,"r":1.2e7},
{"f":588,"b":4.2e7,"o":8.6e7,"g":9.4e7,"r":9.3e6},
{"f":592,"b":3.9e7,"o":9.0e7,"g":8.3e7,"r":9.0e6},
{"f":596,"b":3.8e7,"o":1.01e8,"g":8.6e7,"r":8.8e6},
{"f":600,"b":3.5e7,"o":9.8e7,"g":1.01e8,"r":9.7e6},
{"f":604,"b":4.0e7,"o":9.4e7,"g":1.0e8,"r":9.8e6},
{"f":608,"b":4.3e7,"o":8.8e7,"g":8.8e7,"r":8.7e6},
{"f":612,"b":3.5e7,"o":8.8e7,"g":9.1e7,"r":9.1e6},
{"f":616,"b":3.8e7,"o":1.02e8,"g":9.3e7,"r":1.02e7},
{"f":620,"b":4.3e7,"o":1.03e8,"g":8.5e7,"r":8.6e6},
{"f":624,"b":3.6e7,"o":9.1e7,"g":8.4e7,"r":8.8e6},
{"f":628,"b":3.7e7,"o":9.0e7,"g":9.6e7,"r":1.01e7},
{"f":632,"b":4.4e7,"o":9.5e7,"g":9.9e7,"r":9.4e6},
{"f":636,"b":4.1e7,"o":8.5e7,"g":8.8e7,"r":9.2e6},
{"f":640,"b":3.7e7,"o":8.4e7,"g":8.7e7,"r":8.3e6},
{"f":644,"b":3.6e7,"o":9.9e7,"g":9.9e7,"r":8.5e6},
{"f":648,"b":4.0e7,"o":1.06e8,"g":9.4e7,"r":9.9e6},
{"f":652,"b":3.9e7,"o":9.2e7,"g":8.4e7,"r":9.7e6},
{"f":656,"b":3.5e7,"o":9.3e7,"g":8.2e7,"r":9.0e6},
{"f":660,"b":3.4e7,"o":8.6e7,"g":9.3e7,"r":8.9e6},
{"f":664,"b":4.2e7,"o":8.7e7,"g":9.6e7,"r":8.6e6},
{"f":668,"b":4.2e7,"o":1.0e8,"g":8.6e7,"r":9.4e6},
{"f":672,"b":3.6e7,"o":9.9e7,"g":8.9e7,"r":9.6e6},
{"f":676,"b":3.7e7,"o":9.0e7,"g":9.8e7,"r":8.3e6},
{"f":680,"b":3.9e7,"o":9.0e7,"g":9.2e7,"r":8.1e6},
{"f":684,"b":4.0e7,"o":8.4e7,"g":8.5e7,"r":9.6e6},
{"f":688,"b":3.3e7,"o":1.01e8,"g":8.0e7,"r":9.3e6},
{"f":692,"b":3.5e7,"o":9.6e7,"g":9.2e7,"r":8.7e6},
{"f":696,"b":4.1e7,"o":8.5e7,"g":9.5e7,"r":8.8e6},
{"f":700,"b":4.1e7,"o":8.8e7,"g":8.1e7,"r":9.2e6},
{"f":704,"b":3.6e7,"o":9.4e7,"g":8.6e7,"r":9.7e6},
{"f":708,"b":3.4e7,"o":9.3e7,"g":9.4e7,"r":8.1e6},
{"f":712,"b":3.9e7,"o":8.2e7,"g":9.0e7,"r":8.4e6},
{"f":716,"b":3.8e7,"o":8.5e7,"g":8.5e7,"r":9.0e6},
{"f":720,"b":3.4e7,"o":9.7e7,"g":8.3e7,"r":9.1e6},
{"f":724,"b":3.6e7,"o":9.9e7,"g":8.0e7,"r":8.6e6},
{"f":728,"b":4.2e7,"o":8.8e7,"g":9.3e7,"r":8.0e6},
{"f":732,"b":4.0e7,"o":8.4e7,"g":9.2e7,"r":8.8e6},
{"f":736,"b":3.5e7,"o":9.2e7,"g":8.1e7,"r":9.4e6},
{"f":740,"b":3.3e7,"o":9.1e7,"g":8.4e7,"r":7.9e6},
{"f":744,"b":3.8e7,"o":8.1e7,"g":8.8e7,"r":8.5e6},
{"f":748,"b":3.7e7,"o":8.0e7,"g":8.9e7,"r":9.1e6},
{"f":752,"b":3.2e7,"o":9.6e7,"g":7.7e7,"r":8.9e6},
{"f":756,"b":3.4e7,"o":9.4e7,"g":7.8e7,"r":8.3e6},
{"f":760,"b":4.0e7,"o":8.4e7,"g":9.1e7,"r":7.8e6},
{"f":764,"b":3.8e7,"o":8.3e7,"g":8.6e7,"r":8.6e6},
{"f":768,"b":3.4e7,"o":9.0e7,"g":8.0e7,"r":9.2e6},
{"f":772,"b":3.2e7,"o":8.9e7,"g":7.6e7,"r":7.7e6},
{"f":776,"b":3.7e7,"o":7.8e7,"g":8.5e7,"r":8.2e6},
{"f":780,"b":3.6e7,"o":7.7e7,"g":8.8e7,"r":8.8e6},
{"f":784,"b":3.1e7,"o":9.3e7,"g":7.5e7,"r":8.7e6},
{"f":788,"b":3.3e7,"o":9.0e7,"g":7.9e7,"r":8.0e6},
{"f":792,"b":3.8e7,"o":8.2e7,"g":8.7e7,"r":7.6e6},
{"f":796,"b":3.7e7,"o":8.1e7,"g":7.4e7,"r":8.4e6},
{"f":800,"b":3.3e7,"o":8.7e7,"g":7.9e7,"r":8.6e6},
{"f":804,"b":3.1e7,"o":8.6e7,"g":8.5e7,"r":7.5e6},
{"f":808,"b":3.6e7,"o":7.6e7,"g":8.3e7,"r":7.9e6},
{"f":812,"b":3.5e7,"o":7.5e7,"g":7.8e7,"r":8.2e6},
{"f":816,"b":3.0e7,"o":9.1e7,"g":7.2e7,"r":8.3e6},
{"f":820,"b":3.2e7,"o":8.9e7,"g":7.0e7,"r":7.7e6},
{"f":824,"b":3.7e7,"o":8.0e7,"g":8.6e7,"r":7.3e6},
{"f":828,"b":3.6e7,"o":7.7e7,"g":8.2e7,"r":8.1e6},
{"f":832,"b":3.2e7,"o":8.5e7,"g":7.6e7,"r":8.1e6},
{"f":836,"b":3.0e7,"o":8.3e7,"g":7.4e7,"r":7.2e6},
{"f":840,"b":3.5e7,"o":7.4e7,"g":8.0e7,"r":7.5e6},
{"f":844,"b":3.4e7,"o":7.3e7,"g":7.9e7,"r":7.8e6},
{"f":848,"b":2.9e7,"o":8.8e7,"g":6.9e7,"r":8.0e6},
{"f":852,"b":3.1e7,"o":8.5e7,"g":6.8e7,"r":7.0e6},
{"f":856,"b":3.4e7,"o":7.6e7,"g":7.8e7,"r":7.1e6},
{"f":860,"b":3.5e7,"o":7.1e7,"g":7.6e7,"r":7.6e6},
{"f":864,"b":3.0e7,"o":8.2e7,"g":7.1e7,"r":7.7e6},
{"f":868,"b":2.9e7,"o":7.9e7,"g":6.9e7,"r":6.9e6},
{"f":872,"b":3.3e7,"o":7.0e7,"g":7.5e7,"r":6.8e6},
{"f":876,"b":3.2e7,"o":6.9e7,"g":7.4e7,"r":7.5e6},
{"f":880,"b":2.8e7,"o":8.0e7,"g":6.6e7,"r":7.4e6},
{"f":884,"b":2.8e7,"o":7.6e7,"g":6.4e7,"r":6.6e6},
{"f":888,"b":3.2e7,"o":7.2e7,"g":7.2e7,"r":6.5e6},
{"f":892,"b":3.3e7,"o":6.7e7,"g":7.1e7,"r":7.2e6},
{"f":896,"b":2.7e7,"o":6.6e7,"g":6.8e7,"r":7.1e6},
{"f":900,"b":2.9e7,"o":7.4e7,"g":6.6e7,"r":6.1e6},
{"f":904,"b":3.1e7,"o":7.5e7,"g":6.2e7,"r":6.4e6},
{"f":908,"b":2.7e7,"o":6.5e7,"g":7.3e7,"r":6.9e6},
{"f":912,"b":2.6e7,"o":6.8e7,"g":7.0e7,"r":6.9e6},
{"f":916,"b":3.1e7,"o":7.3e7,"g":6.2e7,"r":6.4e6},
{"f":920,"b":3.0e7,"o":7.2e7,"g":6.0e7,"r":6.2e6},
{"f":924,"b":2.6e7,"o":6.6e7,"g":6.8e7,"r":5.9e6},
{"f":928,"b":2.5e7,"o":6.4e7,"g":6.5e7,"r":6.7e6},
{"f":932,"b":3.0e7,"o":7.1e7,"g":6.1e7,"r":6.8e6},
{"f":936,"b":2.9e7,"o":7.0e7,"g":5.8e7,"r":5.8e6},
{"f":940,"b":2.5e7,"o":6.2e7,"g":6.6e7,"r":6.2e6},
{"f":944,"b":2.6e7,"o":6.3e7,"g":6.4e7,"r":4.7e6},
{"f":948,"b":2.8e7,"o":6.8e7,"g":5.7e7,"r":5.6e6},
{"f":952,"b":2.8e7,"o":6.9e7,"g":6.3e7,"r":6.3e6},
{"f":956,"b":2.6e7,"o":6.0e7,"g":6.4e7,"r":6.5e6},
{"f":960,"b":2.4e7,"o":5.9e7,"g":3.8e7,"r":5.9e6},
{"f":964,"b":2.9e7,"o":6.7e7,"g":5.6e7,"r":6.1e6},
{"f":968,"b":2.9e7,"o":6.6e7,"g":5.9e7,"r":6.6e6},
{"f":972,"b":2.4e7,"o":5.8e7,"g":6.2e7,"r":5.7e6},
{"f":976,"b":2.5e7,"o":6.1e7,"g":6.4e7,"r":5.6e6},
{"f":980,"b":2.7e7,"o":6.6e7,"g":5.4e7,"r":6.5e6},
{"f":984,"b":2.8e7,"o":7.0e7,"g":5.5e7,"r":6.2e6},
{"f":988,"b":2.5e7,"o":5.7e7,"g":6.0e7,"r":5.8e6},
{"f":992,"b":2.4e7,"o":5.8e7,"g":6.1e7,"r":5.4e6},
{"f":996,"b":2.9e7,"o":6.4e7,"g":5.3e7,"r":6.6e6},
{"f":1000,"b":3.0e7,"o":6.5e7,"g":5.7e7,"r":6.4e6},
{"f":1004,"b":2.3e7,"o":5.9e7,"g":6.3e7,"r":5.5e6},
{"f":1008,"b":2.6e7,"o":6.0e7,"g":6.2e7,"r":5.7e6},
{"f":1012,"b":2.7e7,"o":6.5e7,"g":5.8e7,"r":6.3e6},
{"f":1016,"b":2.0e7,"o":6.7e7,"g":5.6e7,"r":6.1e6},
{"f":1020,"b":2.4e7,"o":6.1e7,"g":6.1e7,"r":5.9e6},
{"f":1023,"b":2.6e7,"o":6.3e7,"g":6.5e7,"r":6.0e6}
]},
"transform":[{"fold":["b","o","g","r"],"as":["series","value"]}],
"mark":{"type":"line","strokeWidth":1.5,"clip":true},
"encoding":{
 "x":{"field":"f","type":"quantitative","scale":{"domain":[-1126,1125],"nice":false,"zero":false},
  "axis":{"title":"delta Frequency (Hz)","values":[-1000,-500,0,500,1000],"labelExpr":"datum.value < 0 ? '−' + format(abs(datum.value),'d') : format(datum.value,'d')"}},
 "y":{"field":"value","type":"quantitative","scale":{"type":"log","domain":[2.9e6,3.45e9],"nice":false},
  "axis":{"title":"A.U. (dB)","values":[3e6,4e6,5e6,6e6,7e6,8e6,9e6,1e7,2e7,3e7,4e7,5e7,6e7,7e7,8e7,9e7,1e8,2e8,3e8,4e8,5e8,6e8,7e8,8e8,9e8,1e9,2e9,3e9],
   "labelExpr":"datum.value == 1e7 ? '10⁷' : datum.value == 1e8 ? '10⁸' : datum.value == 1e9 ? '10⁹' : ''",
   "gridOpacity":{"condition":{"test":"datum.value == 1e7 || datum.value == 1e8 || datum.value == 1e9","value":1},"value":0},
   "tickSize":{"condition":{"test":"datum.value == 1e7 || datum.value == 1e8 || datum.value == 1e9","value":5},"value":3}}},
 "color":{"field":"series","type":"nominal","scale":{"domain":["b","o","g","r"],"range":["#1f77b4","#ff7f0e","#2ca02c","#d62728"]},
  "legend":{"title":null,"orient":"top-right","offset":7,"padding":8,"strokeColor":"#d0d0d0","fillColor":"#ffffff","cornerRadius":3,
   "labelFontSize":17,"labelFont":"DejaVu Sans","labelColor":"#000","labelLimit":0,"symbolType":"M-3.6,0L3.6,0","symbolSize":100,"symbolStrokeWidth":2,"symbolOffset":11,"labelOffset":21,"rowPadding":7.5,
   "labelExpr":"datum.label == 'b' ? 'Reference - SNR = 1.99' : datum.label == 'o' ? 'Gosper - SNR = 2.84' : datum.label == 'g' ? 'Pentaflake - SNR = 2.97' : 'Sierpinski - SNR = 1.4'"}}
},
"config":{
 "font":"DejaVu Sans",
 "view":{"stroke":"#333","strokeWidth":1},
 "axis":{"labelFontSize":17,"titleFontSize":17,"titleFontWeight":"normal","labelColor":"#000","titleColor":"#000","gridColor":"#d6d6d6","gridWidth":1,"tickColor":"#333","domainColor":"#333","labelFont":"DejaVu Sans","titleFont":"DejaVu Sans"},
 "axisX":{"labelPadding":4,"titlePadding":2,"tickSize":5},
 "axisY":{"labelPadding":3,"titlePadding":6}
}
}
